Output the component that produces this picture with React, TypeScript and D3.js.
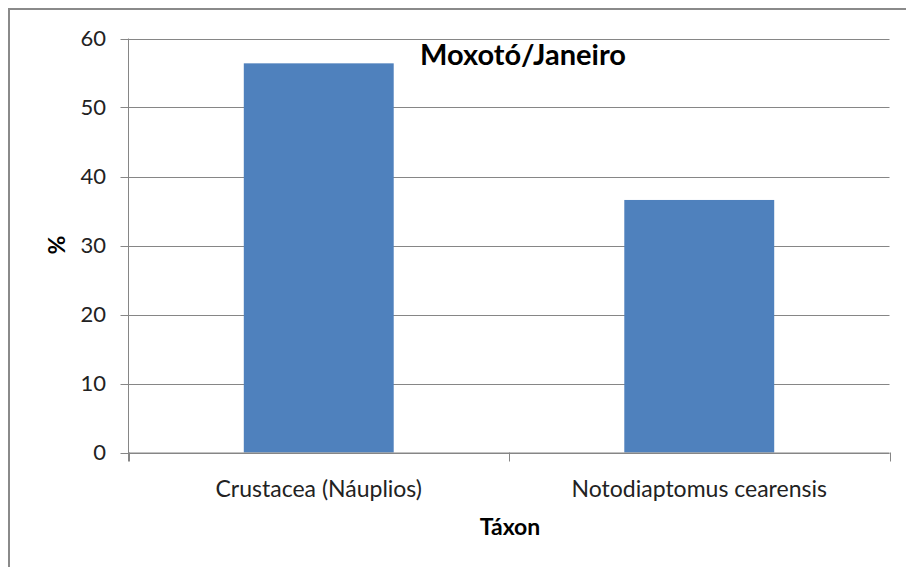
import React from "react";
import * as d3 from "d3";

const categories = ["Crustacea (Náuplios)", "Notodiaptomus cearensis"];
const values = [56.4, 36.6];
const yTicks = [0, 10, 20, 30, 40, 50, 60];
const title = "Moxotó/Janeiro";
const xTitle = "Táxon";
const yTitle = "%";

const W = 906;
const H = 567;
const FONT = "Lato, 'Open Sans', sans-serif";

export default function App() {
  const left = 128.5, right = 889.5, top = 38.5, bottom = 452.5;
  const x = d3.scaleBand<string>().domain(categories).range([left, right]).paddingInner(0).paddingOuter(0);
  const y = d3.scaleLinear().domain([0, 60]).range([bottom, top]);
  const barFrac = 0.394;
  const bw = x.bandwidth() * barFrac;
  const boundaries = [left, ...categories.map((c) => (x(c) as number) + x.bandwidth())];

  return (
    <div style={{ position: "absolute", left: 0, top: 0 }}>
      <svg width={W} height={H} style={{ display: "block" }}>
        <rect x={0} y={0} width={W} height={H} fill="#fff" />
        <line x1={9} y1={9} x2={W} y2={9} stroke="#8a8a8a" strokeWidth={2} />
        <line x1={9} y1={8} x2={9} y2={H} stroke="#8a8a8a" strokeWidth={2} />
        {yTicks.map((t) => (
          <g key={t}>
            <line x1={left - 8} x2={right} y1={Math.round(y(t)) + 0.5} y2={Math.round(y(t)) + 0.5} stroke="#868686" strokeWidth={1} />
            <text x={106} y={y(t)} dy="0.36em" textAnchor="end" fontFamily={FONT} fontSize={22} fill="#222">
              {t}
            </text>
          </g>
        ))}
        {categories.map((c, i) => {
          const cx = (x(c) as number) + x.bandwidth() / 2;
          return (
            <g key={c}>
              <rect x={cx - bw / 2} y={y(values[i])} width={bw} height={y(0) - y(values[i])} fill="#4f81bd" />
              <text x={cx} y={497} textAnchor="middle" fontFamily={FONT} fontSize={23} fill="#222">
                {c}
              </text>
            </g>
          );
        })}
        <line x1={left} x2={left} y1={top} y2={bottom + 9} stroke="#868686" strokeWidth={1} />
        <line x1={left} x2={right} y1={bottom + 0.5} y2={bottom + 0.5} stroke="#868686" strokeWidth={1} />
        {boundaries.map((b, i) => (
          <line key={i} x1={Math.round(b) + 0.5} x2={Math.round(b) + 0.5} y1={bottom} y2={bottom + 9} stroke="#868686" strokeWidth={1} />
        ))}
        <text x={523} y={65} textAnchor="middle" fontFamily={FONT} fontWeight="bold" fontSize={29} fill="#000">
          {title}
        </text>
        <text x={510} y={535} textAnchor="middle" fontFamily={FONT} fontWeight="bold" fontSize={23} fill="#000">
          {xTitle}
        </text>
        <text transform={`translate(57,245) rotate(-90)`} dy="0.36em" textAnchor="middle" fontFamily={FONT} fontWeight="bold" fontSize={23} fill="#000">
          {yTitle}
        </text>
      </svg>
    </div>
  );
}
